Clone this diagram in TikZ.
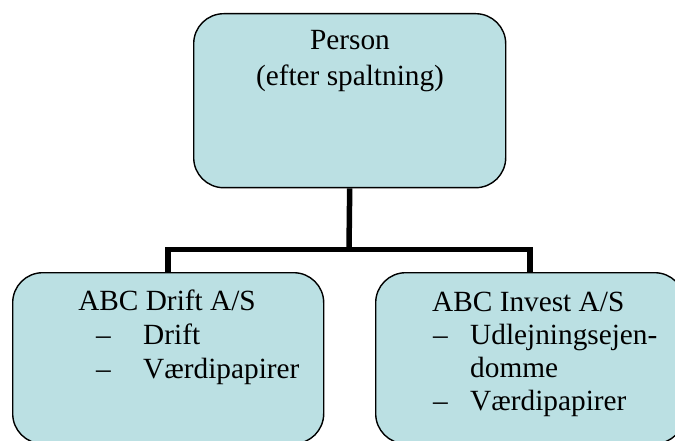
\documentclass[tikz,border=0pt]{standalone}
\usepackage{fontspec}
\setmainfont{Liberation Serif}
\definecolor{boxfill}{RGB}{187,224,227}
\begin{document}
\begin{tikzpicture}[x=1pt,y=-1pt,
  orgbox/.style={draw=black,line width=1.4pt,fill=boxfill,rounded corners=30pt,inner sep=0pt,anchor=north west},
  conn/.style={draw=black,line width=5.5pt,line join=miter},
  txt/.style={inner sep=0pt,font=\fontsize{29.3}{34}\selectfont}]
\useasboundingbox (0,0) rectangle (675,441);
\clip (0,0) rectangle (675,441);
\node[orgbox,minimum width=312pt,minimum height=174pt] (top) at (193,13) {};
\node[orgbox,minimum width=311pt,minimum height=171pt] (left) at (12,272) {};
\node[orgbox,minimum width=309pt,minimum height=171pt] (right) at (375,272) {};
\coordinate (bar) at (349,249.5);
\draw[conn] (top.south) -- (bar);
\draw[conn] (left.north) |- (bar) -| (right.north);
% top texts
\node[txt,anchor=base] (t1) at (350,50) {Person};
\node[txt,anchor=base] (t2) at (350,86) {(efter spaltning)};
% left texts
\node[txt,anchor=base] (l0) at (167,310) {ABC Drift A/S};
\node[txt,anchor=base west] (l1d) at (96,344) {–};
\node[txt,anchor=base west] (l1) at (143,344) {Drift};
\node[txt,anchor=base west] (l2d) at (96,378) {–};
\node[txt,anchor=base west] (l2) at (143,378) {Værdipapirer};
% right texts
\node[txt,anchor=base west] (r0) at (432,311) {ABC Invest A/S};
\node[txt,anchor=base west] (r1d) at (433,344) {–};
\node[txt,anchor=base west] (r1) at (470,344) {Udlejningsejen-};
\node[txt,anchor=base west] (r1b) at (470,377) {domme};
\node[txt,anchor=base west] (r2d) at (433,410) {–};
\node[txt,anchor=base west] (r2) at (470,410) {Værdipapirer};
\end{tikzpicture}
\end{document}
